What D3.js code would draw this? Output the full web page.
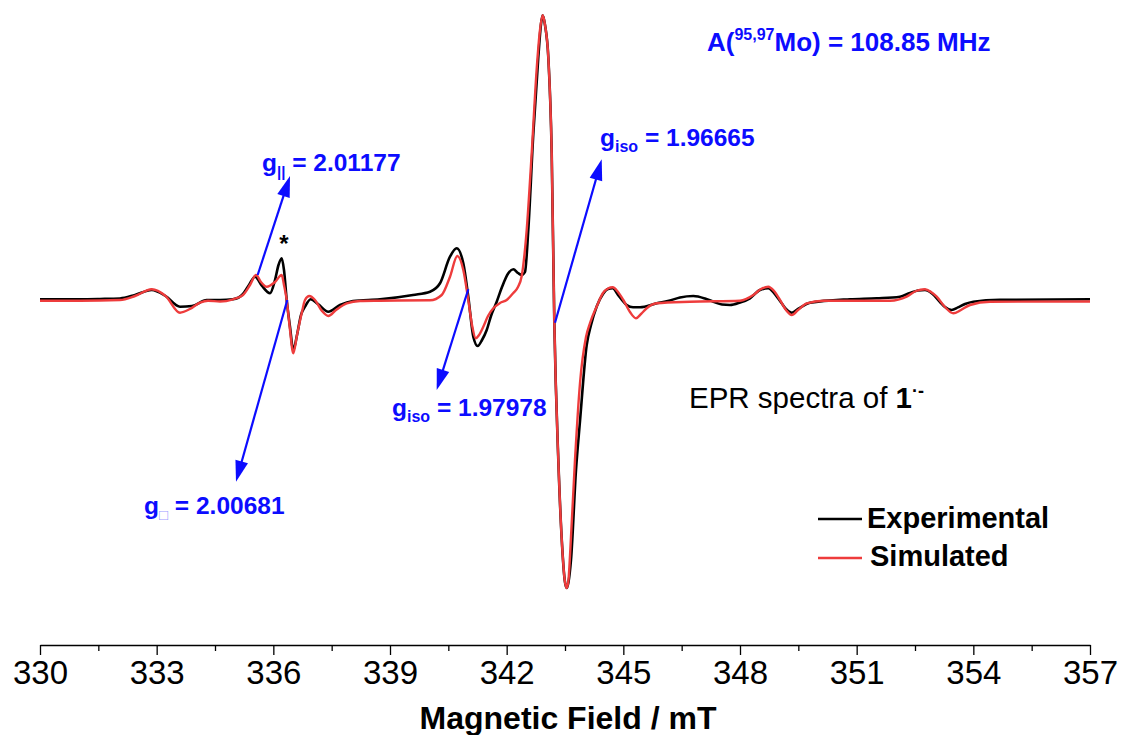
<!DOCTYPE html>
<html>
<head>
<meta charset="utf-8">
<script src="https://cdn.jsdelivr.net/npm/d3@7"></script>
<style>
  html, body { margin: 0; padding: 0; background: #fff; }
  svg { display: block; font-family: "Liberation Sans", Arial, sans-serif; }
</style>
</head>
<body>
<svg id="chart" width="1121" height="735"></svg>
<script>
// ---- data ----
const fieldExp = [330.000,331.029,331.543,332.057,332.443,332.872,333.229,333.600,333.909,334.287,334.629,334.963,335.220,335.374,335.529,335.709,335.914,336.043,336.133,336.215,336.274,336.344,336.429,336.513,336.609,336.711,336.814,336.961,337.149,337.413,337.714,338.049,338.743,339.592,340.029,340.286,340.543,340.715,340.885,341.013,341.142,341.255,341.366,341.487,341.597,341.744,341.880,342.042,342.171,342.291,342.387,342.471,342.556,342.685,342.814,342.883,342.927,342.986,343.071,343.158,343.225,343.328,343.441,343.492,343.544,343.590,343.654,343.783,343.886,344.058,344.169,344.315,344.477,344.606,344.726,344.863,345.086,345.249,345.429,345.858,346.200,346.457,346.800,347.100,347.314,347.537,347.743,348.000,348.257,348.514,348.728,348.875,349.072,349.183,349.330,349.492,349.800,350.829,351.515,352.114,352.371,352.577,352.757,352.937,353.143,353.271,353.443,353.605,353.786,353.999,354.686,357.000];
const intensityExp = [0.0025,0.0025,0.0035,0.0053,0.0175,0.035,0.014,-0.0235,-0.021,0,0,0.0025,0.021,0.0525,0.0816,0.049,0.0235,0.070,0.1225,0.146,0.105,0,-0.0945,-0.175,-0.1225,-0.0525,-0.0235,0.0025,-0.014,-0.041,-0.0175,-0.0035,0.0025,0.0175,0.029,0.0585,0.1516,0.181,0.1285,0.0116,-0.1285,-0.161,-0.140,-0.105,-0.056,-0.006,0.0455,0.0935,0.1075,0.0945,0.0875,0.098,0.245,0.581,0.8505,0.966,0.9965,0.9625,0.849,0.5145,-0.0763,-0.559,-0.8946,-0.980,-1.008,-0.987,-0.910,-0.595,-0.4235,-0.1575,-0.0875,-0.0228,0.021,0.0385,0.041,0.0175,-0.0175,-0.0255,-0.0255,-0.0116,-0.0018,0.0088,0.014,0.0053,-0.006,-0.0158,-0.0175,-0.0088,0.006,0.035,0.041,0.0245,-0.0116,-0.0315,-0.0445,-0.0315,-0.0095,0.0025,0.006,0.0116,0.0245,0.033,0.035,0.023,-0.007,-0.0245,-0.035,-0.026,-0.014,-0.006,0.0007,0.0025];

const fieldSim = [330.000,331.029,332.057,332.443,332.872,333.229,333.600,333.857,334.114,334.320,334.629,334.963,335.220,335.400,335.554,335.683,335.829,336.043,336.215,336.274,336.344,336.429,336.513,336.609,336.729,336.814,336.925,337.071,337.251,337.413,337.611,337.887,338.229,338.743,340.029,340.330,340.543,340.731,340.885,341.013,341.109,341.204,341.289,341.399,341.520,341.657,341.829,342.001,342.171,342.291,342.387,342.515,342.644,342.772,342.857,342.927,342.986,343.071,343.158,343.225,343.328,343.441,343.492,343.544,343.590,343.629,343.757,343.886,344.040,344.143,344.315,344.477,344.606,344.726,344.863,345.000,345.171,345.326,345.454,345.601,345.858,346.714,348.000,348.342,348.540,348.728,348.875,349.029,349.183,349.330,349.492,349.716,350.142,351.857,352.286,352.525,352.757,352.911,353.058,353.271,353.485,353.683,353.914,354.429,357.000];
const intensitySim = [-0.0025,-0.0025,0.000,0.014,0.0375,0.014,-0.0445,-0.0315,-0.0095,-0.0025,-0.0053,0.0025,0.0175,0.0525,0.0875,0.063,0.0466,0.063,0.0875,0.0525,0,-0.105,-0.1866,-0.1225,-0.0466,0,0.014,0,-0.0385,-0.056,-0.035,-0.0116,-0.0035,-0.0025,-0.001,0.0175,0.0816,0.154,0.105,0,-0.0875,-0.134,-0.1225,-0.0935,-0.056,-0.029,-0.0105,0,0.0245,0.0455,0.084,0.245,0.5145,0.8085,0.945,0.9965,0.9625,0.849,0.5145,-0.0763,-0.559,-0.8946,-0.980,-1.008,-0.980,-0.8946,-0.559,-0.2905,-0.1295,-0.0805,-0.0228,0.0245,0.040,0.0445,0.028,0,-0.042,-0.064,-0.049,-0.029,-0.0116,-0.006,-0.0025,0.0175,0.0385,0.0466,0.0315,0,-0.035,-0.0525,-0.035,-0.0116,-0.0025,-0.0025,0.0116,0.0315,0.0375,0.028,0.0116,-0.0245,-0.0466,-0.035,-0.0175,-0.006,-0.0053];

const majorTicks = [330,333,336,339,342,345,348,351,354,357];
const minorTicks = [331.5,334.5,337.5,340.5,343.5,346.5,349.5,352.5,355.5];

// arrows: [startField, startIntensity, tipField, tipIntensity]
const arrowGpar  = [335.597, 0.0875, 336.429, 0.434];
const arrowGperp = [336.359, 0.0, 335.040, -0.636];
const arrowIso1  = [341.013, 0.0375, 340.201, -0.315];
const arrowIso2  = [343.243, -0.0795, 344.444, 0.4925];

// ---- drawing ----
const svg = d3.select("#chart");
const BLUE = "#0c0cff";
const RED = "#ee3c3c";

const x = d3.scaleLinear().domain([330, 357]).range([40, 1090]);
const y = d3.scaleLinear().domain([-1.05, 1.05]).range([600, 0]);

const line = d3.line().x(d => x(d[0])).y(d => y(d[1])).curve(d3.curveMonotoneX);

const expData = fieldExp.map((f, i) => [f, intensityExp[i]]);
const simData = fieldSim.map((f, i) => [f, intensitySim[i]]);

svg.append("path").datum(expData).attr("d", line)
  .attr("fill", "none").attr("stroke", "#000").attr("stroke-width", 2.6).attr("stroke-linejoin", "round");
svg.append("path").datum(simData).attr("d", line)
  .attr("fill", "none").attr("stroke", RED).attr("stroke-width", 2.4).attr("stroke-linejoin", "round");

// axis
const axisY = 645;
const gAxis = svg.append("g").attr("transform", `translate(0,${axisY})`)
  .call(d3.axisBottom(x).tickValues(majorTicks).tickSize(10).tickSizeOuter(0).tickPadding(6).tickFormat(d3.format("d")));
gAxis.select(".domain").attr("stroke", "#000").attr("stroke-width", 1.6);
gAxis.selectAll(".tick line").attr("stroke", "#000").attr("stroke-width", 1.3);
gAxis.selectAll(".tick text").attr("fill", "#000").attr("font-size", 33)
  .attr("font-family", "'Liberation Sans', Arial, sans-serif");
const gMinor = svg.append("g").attr("transform", `translate(0,${axisY})`)
  .call(d3.axisBottom(x).tickValues(minorTicks).tickSize(6).tickSizeOuter(0).tickFormat(""));
gMinor.select(".domain").remove();
gMinor.selectAll(".tick line").attr("stroke", "#000").attr("stroke-width", 1.3);

svg.append("text").attr("x", 568).attr("y", 729).attr("text-anchor", "middle")
  .attr("font-size", 32).attr("font-weight", "bold").attr("fill", "#000")
  .text("Magnetic Field / mT");

// arrows
function drawArrow(a) {
  const x0 = x(a[0]), y0 = y(a[1]), x1 = x(a[2]), y1 = y(a[3]);
  const dx = x1 - x0, dy = y1 - y0, L = Math.hypot(dx, dy);
  const ux = dx / L, uy = dy / L;
  const headL = 21, headW = 6.5;
  const bx = x1 - ux * headL, by = y1 - uy * headL;
  svg.append("line").attr("x1", x0).attr("y1", y0).attr("x2", bx + ux * 2).attr("y2", by + uy * 2)
    .attr("stroke", BLUE).attr("stroke-width", 2.2);
  svg.append("path")
    .attr("d", `M${x1},${y1}L${bx - uy * headW},${by + ux * headW}L${bx + uy * headW},${by - ux * headW}Z`)
    .attr("fill", BLUE);
}
[arrowGpar, arrowGperp, arrowIso1, arrowIso2].forEach(drawArrow);

// annotations
function gLabel(px, py, sub, value, subSize, subOpts) {
  const t = svg.append("text").attr("x", px).attr("y", py)
    .attr("font-size", 24.5).attr("font-weight", "bold").attr("fill", BLUE);
  t.append("tspan").text("g");
  const s = t.append("tspan").attr("font-size", subSize).attr("dy", 6).text(sub);
  if (subOpts) subOpts(s);
  t.append("tspan").attr("dy", -6).text(" = " + value);
  return t;
}
gLabel(262, 171, "||", "2.01177", 15);
gLabel(144, 514, "\u25A1", "2.00681", 15, s => s.attr("font-weight", "normal").attr("fill", "#9a9aff"));
gLabel(392, 416, "iso", "1.97978", 16);
gLabel(600, 146, "iso", "1.96665", 16);

const aT = svg.append("text").attr("x", 707).attr("y", 51)
  .attr("font-size", 26).attr("font-weight", "bold").attr("fill", BLUE);
aT.append("tspan").text("A(");
aT.append("tspan").attr("font-size", 16).attr("dy", -11).text("95,97");
aT.append("tspan").attr("dy", 11).text("Mo) = 108.85 MHz");

svg.append("text").attr("x", 284).attr("y", 252).attr("text-anchor", "middle")
  .attr("font-size", 24).attr("font-weight", "bold").attr("fill", "#000").text("*");

const eT = svg.append("text").attr("x", 689).attr("y", 408)
  .attr("font-size", 29.5).attr("fill", "#000");
eT.append("tspan").text("EPR spectra of ");
eT.append("tspan").attr("font-weight", "bold").text("1");
eT.append("tspan").attr("font-weight", "bold").attr("font-size", 18).attr("dy", -11).text("·-");

// legend
svg.append("line").attr("x1", 818).attr("x2", 862).attr("y1", 519).attr("y2", 519)
  .attr("stroke", "#000").attr("stroke-width", 2.4);
svg.append("text").attr("x", 867).attr("y", 528).attr("font-size", 29).attr("font-weight", "bold")
  .attr("fill", "#000").text("Experimental");
svg.append("line").attr("x1", 818).attr("x2", 862).attr("y1", 558).attr("y2", 558)
  .attr("stroke", RED).attr("stroke-width", 2.4);
svg.append("text").attr("x", 870).attr("y", 566).attr("font-size", 29).attr("font-weight", "bold")
  .attr("fill", "#000").text("Simulated");
</script>
</body>
</html>
